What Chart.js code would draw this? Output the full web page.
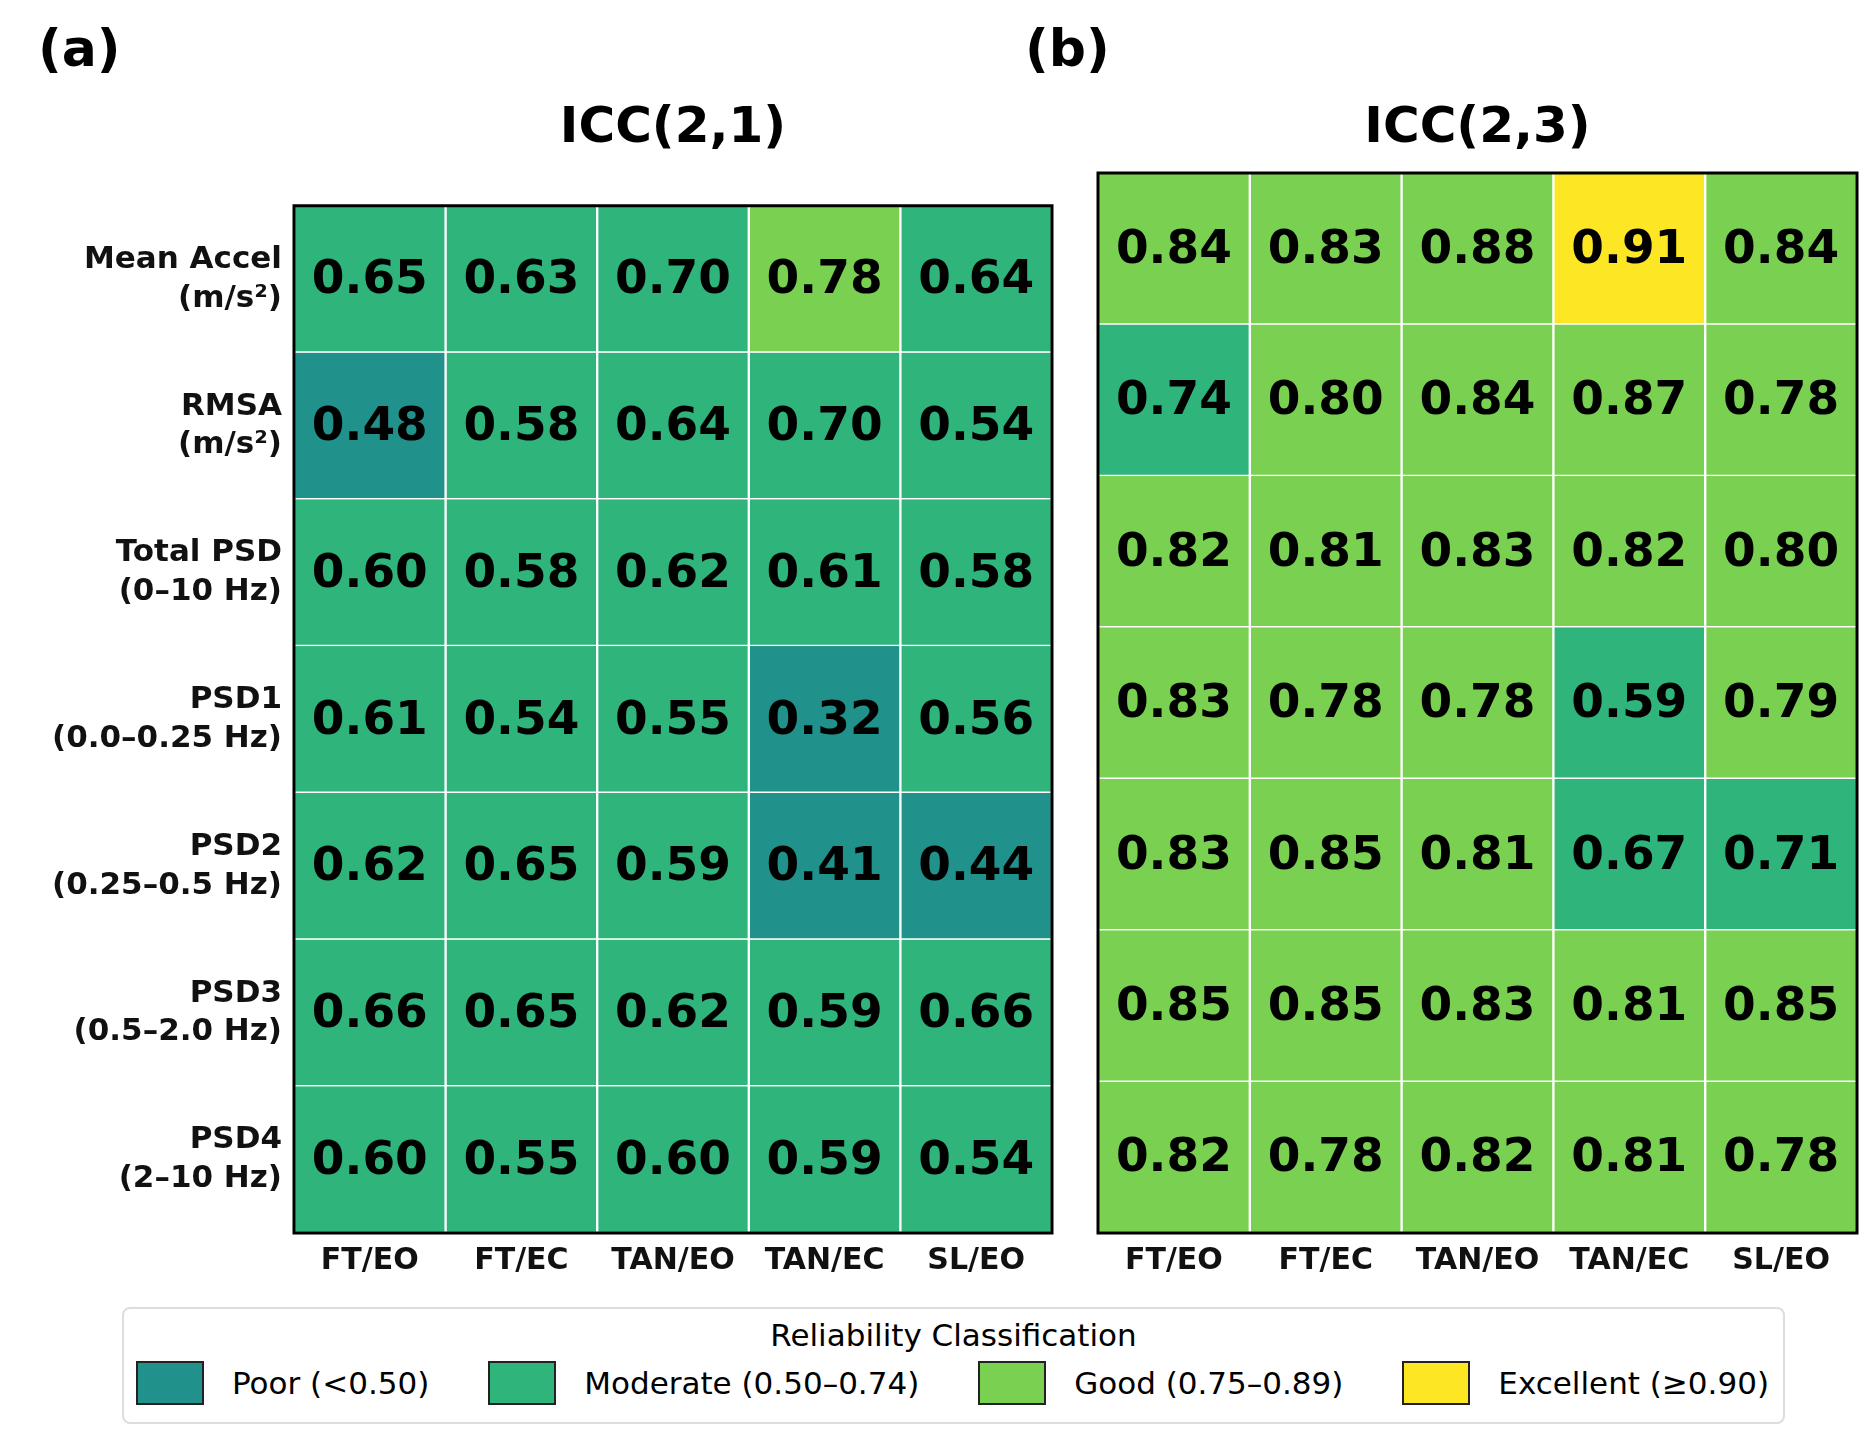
<!DOCTYPE html>
<html>
<head>
<meta charset="utf-8">
<script src="https://cdn.jsdelivr.net/npm/chart.js@4"></script>
<style>
  body { margin: 0; background: #fff; font-family: "DejaVu Sans", sans-serif; }
  .wrap { position: relative; width: 1874px; height: 1443px; }
  .tag { position: absolute; font-weight: bold; font-size: 52px; top: 18px; }
  .ttl { position: absolute; font-weight: bold; font-size: 50px; top: 96px; text-align: center; }
  canvas { position: absolute; }
  #legend { position: absolute; left: 122px; top: 1307px; width: 1663px; height: 117px;
    border: 2px solid #ddd; border-radius: 8px; box-sizing: border-box; }
  #legend .lt { text-align: center; font-size: 31px; margin-top: 8px; }
  #legend .items { display: flex; justify-content: space-between; padding: 8px 14px 0 12px; }
  #legend .it { display: flex; align-items: center; font-size: 31px; }
  #legend .sw { width: 68px; height: 44px; border: 2px solid #222; box-sizing: border-box; margin-right: 28px; }
</style>
</head>
<body>
<div class="wrap">
  <div class="tag" style="left:38px">(a)</div>
  <div class="tag" style="left:1025px">(b)</div>
  <div class="ttl" style="left:294px;width:758px">ICC(2,1)</div>
  <div class="ttl" style="left:1098px;width:759px">ICC(2,3)</div>
  <canvas id="c1" style="left:0;top:163px" width="1062" height="1130"></canvas>
  <canvas id="c2" style="left:1062px;top:163px" width="812" height="1130"></canvas>
  <div id="legend">
    <div class="lt">Reliability Classification</div>
    <div class="items" id="items"></div>
  </div>
</div>
<script>
const conditions = ["FT/EO", "FT/EC", "TAN/EO", "TAN/EC", "SL/EO"];
const rowLabels = [
  ["Mean Accel", "(m/s²)"],
  ["RMSA", "(m/s²)"],
  ["Total PSD", "(0–10 Hz)"],
  ["PSD1", "(0.0–0.25 Hz)"],
  ["PSD2", "(0.25–0.5 Hz)"],
  ["PSD3", "(0.5–2.0 Hz)"],
  ["PSD4", "(2–10 Hz)"]
];
const icc21 = [
  [0.65, 0.63, 0.70, 0.78, 0.64],
  [0.48, 0.58, 0.64, 0.70, 0.54],
  [0.60, 0.58, 0.62, 0.61, 0.58],
  [0.61, 0.54, 0.55, 0.32, 0.56],
  [0.62, 0.65, 0.59, 0.41, 0.44],
  [0.66, 0.65, 0.62, 0.59, 0.66],
  [0.60, 0.55, 0.60, 0.59, 0.54]
];
const icc23 = [
  [0.84, 0.83, 0.88, 0.91, 0.84],
  [0.74, 0.80, 0.84, 0.87, 0.78],
  [0.82, 0.81, 0.83, 0.82, 0.80],
  [0.83, 0.78, 0.78, 0.59, 0.79],
  [0.83, 0.85, 0.81, 0.67, 0.71],
  [0.85, 0.85, 0.83, 0.81, 0.85],
  [0.82, 0.78, 0.82, 0.81, 0.78]
];
const classNames = ["Poor (<0.50)", "Moderate (0.50–0.74)", "Good (0.75–0.89)", "Excellent (≥0.90)"];
const classColors = ["#21918c", "#2fb47c", "#7ad151", "#fde725"];

function classColor(v) {
  if (v >= 0.9) return classColors[3];
  if (v >= 0.75) return classColors[2];
  if (v >= 0.5) return classColors[1];
  return classColors[0];
}

const cellText = {
  id: "cellText",
  afterDatasetsDraw(chart) {
    const ctx = chart.ctx;
    ctx.save();
    ctx.font = "bold 47px 'DejaVu Sans'";
    ctx.fillStyle = "#000";
    ctx.textAlign = "center";
    ctx.textBaseline = "middle";
    chart.data.datasets.forEach((ds, i) => {
      chart.getDatasetMeta(i).data.forEach((el, j) => {
        ctx.fillText(ds.vals[j].toFixed(2), el.x, (el.y + el.base) / 2 + 2);
      });
    });
    const a = chart.chartArea;
    ctx.strokeStyle = "#000";
    ctx.lineWidth = 3;
    ctx.strokeRect(a.left, a.top, a.right - a.left, a.bottom - a.top);
    ctx.restore();
  }
};

function makeChart(id, values, yWidth, showY, padRight) {
  const datasets = values.map((row, i) => ({
    label: rowLabels[i].join(" "),
    data: row.map(() => 1),
    vals: row,
    backgroundColor: row.map(classColor),
    borderColor: "#fff",
    borderWidth: 1.5,
    barPercentage: 1,
    categoryPercentage: 1
  }));
  return new Chart(document.getElementById(id), {
    type: "bar",
    data: { labels: conditions, datasets },
    plugins: [cellText],
    options: {
      responsive: false,
      animation: false,
      layout: { padding: { top: 10, right: padRight, left: 0, bottom: 0 } },
      plugins: { legend: { display: false }, tooltip: { enabled: false } },
      scales: {
        x: {
          stacked: true,
          grid: { display: false },
          border: { display: false },
          ticks: { color: "#111", font: { family: "DejaVu Sans", weight: "bold", size: 30 }, padding: 2 },
          afterFit(s) { s.height = 60; }
        },
        y: {
          stacked: true,
          reverse: true,
          min: 0,
          max: 7,
          grid: { display: false },
          border: { display: false },
          afterBuildTicks(s) { s.ticks = rowLabels.map((r, i) => ({ value: i + 0.5 })); },
          ticks: {
            display: showY,
            color: "#111",
            padding: 4,
            font: { family: "DejaVu Sans", weight: "bold", size: 31, lineHeight: 1.25 },
            callback: (v) => rowLabels[Math.floor(v)]
          },
          afterFit(s) { s.width = yWidth; }
        }
      }
    }
  });
}

makeChart("c1", icc21, 294, true, 10);
makeChart("c2", icc23, 36, false, 17);

const items = document.getElementById("items");
classNames.forEach((n, i) => {
  const d = document.createElement("div");
  d.className = "it";
  d.innerHTML = '<div class="sw" style="background:' + classColors[i] + '"></div>' + n;
  items.appendChild(d);
});
</script>
</body>
</html>
